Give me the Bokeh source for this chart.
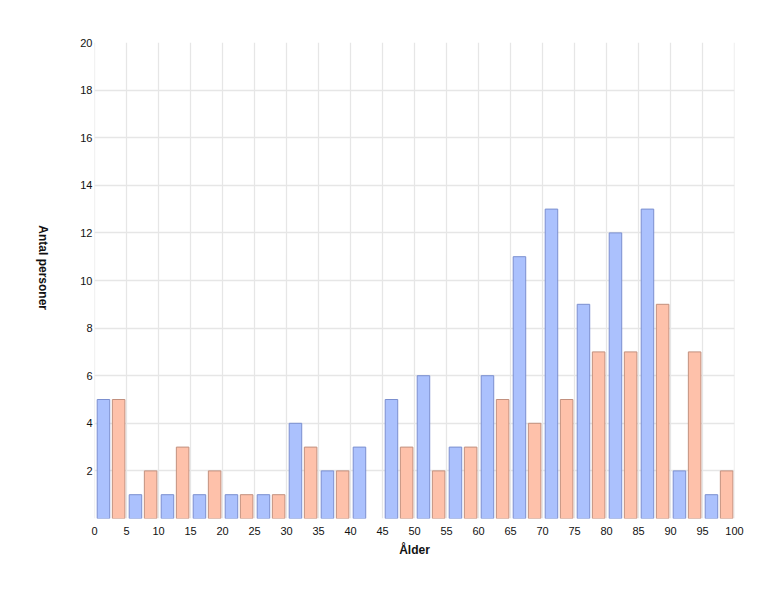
import math
from bokeh.plotting import figure
from bokeh.layouts import row
from bokeh.models import FixedTicker, ColumnDataSource, Span, Label
from bokeh.embed import file_html
from bokeh.resources import INLINE

bin_starts = [0, 5, 10, 15, 20, 25, 30, 35, 40, 45, 50, 55, 60, 65, 70, 75, 80, 85, 90, 95]
series_a = [5, 1, 1, 1, 1, 1, 4, 2, 3, 5, 6, 3, 6, 11, 13, 9, 12, 13, 2, 1]
series_b = [5, 2, 3, 2, 1, 1, 3, 2, 0, 3, 2, 3, 5, 4, 5, 7, 7, 9, 7, 2]
x_ticks = list(range(0, 101, 5))
y_ticks = list(range(0, 21, 2))
x_title = "Ålder"
y_title = "Antal personer"

FONT = "Liberation Sans"
SIDE_W = 60

# narrow side panel holding the clockwise-rotated y-axis title
side = figure(width=SIDE_W, height=594, x_range=(0, SIDE_W), y_range=(0, 594),
              output_backend="svg", toolbar_location=None,
              min_border_left=0, min_border_right=0, min_border_top=0, min_border_bottom=0)
side.axis.visible = False
side.grid.visible = False
side.outline_line_color = None
side.add_layout(Label(x=42, y=594 - 281, text=y_title, angle=-math.pi / 2,
                      text_align="center", text_baseline="middle",
                      text_font=FONT, text_font_size="12px", text_font_style="bold",
                      text_color="#111111"))

p = figure(width=774 - SIDE_W, height=594, x_range=(0, 100), y_range=(0, 20),
           output_backend="svg", toolbar_location=None,
           min_border_left=94 - SIDE_W, min_border_right=40, min_border_top=42, min_border_bottom=76)
p.outline_line_color = None
p.background_fill_color = "white"

def nonzero(vals, off):
    xs = [b + off for b, v in zip(bin_starts, vals) if v > 0]
    ts = [v for v in vals if v > 0]
    return ColumnDataSource(dict(x=xs, top=ts))

p.vbar(x="x", top="top", bottom=0, width=1.96, source=nonzero(series_a, 1.4),
       fill_color="#abc1fd", line_color="#7b8fcf", line_width=1)
p.vbar(x="x", top="top", bottom=0, width=1.96, source=nonzero(series_b, 3.77),
       fill_color="#fec1aa", line_color="#c2907e", line_width=1)

for ax in (p.xaxis[0], p.yaxis[0]):
    ax.axis_line_color = None
    ax.major_tick_line_color = None
    ax.minor_tick_line_color = None
    ax.major_tick_out = 0
    ax.major_tick_in = 0
    ax.minor_tick_out = 0
    ax.major_label_text_font = FONT
    ax.major_label_text_font_size = "11px"
    ax.major_label_text_color = "#111111"
    ax.axis_label_text_font = FONT
    ax.axis_label_text_font_size = "12px"
    ax.axis_label_text_font_style = "bold"
    ax.axis_label_text_color = "#111111"

p.xaxis.ticker = FixedTicker(ticks=x_ticks)
p.yaxis.ticker = FixedTicker(ticks=y_ticks)
p.yaxis.major_label_overrides = {0: ""}
p.xaxis.major_label_standoff = 8
p.yaxis.major_label_standoff = 2

p.xaxis.axis_label = x_title
p.xaxis.axis_label_standoff = 5

GRID = "#e6e6e6"
p.xgrid.grid_line_color = GRID
p.ygrid.grid_line_color = GRID
p.xgrid.grid_line_width = 1.3
p.ygrid.grid_line_width = 1.3
for loc in (x_ticks[0], x_ticks[-1]):
    p.add_layout(Span(location=loc, dimension="height", line_color=GRID, line_width=1.3))

layout = row(side, p, spacing=0)
open("out.html", "w").write(file_html(layout, INLINE))
